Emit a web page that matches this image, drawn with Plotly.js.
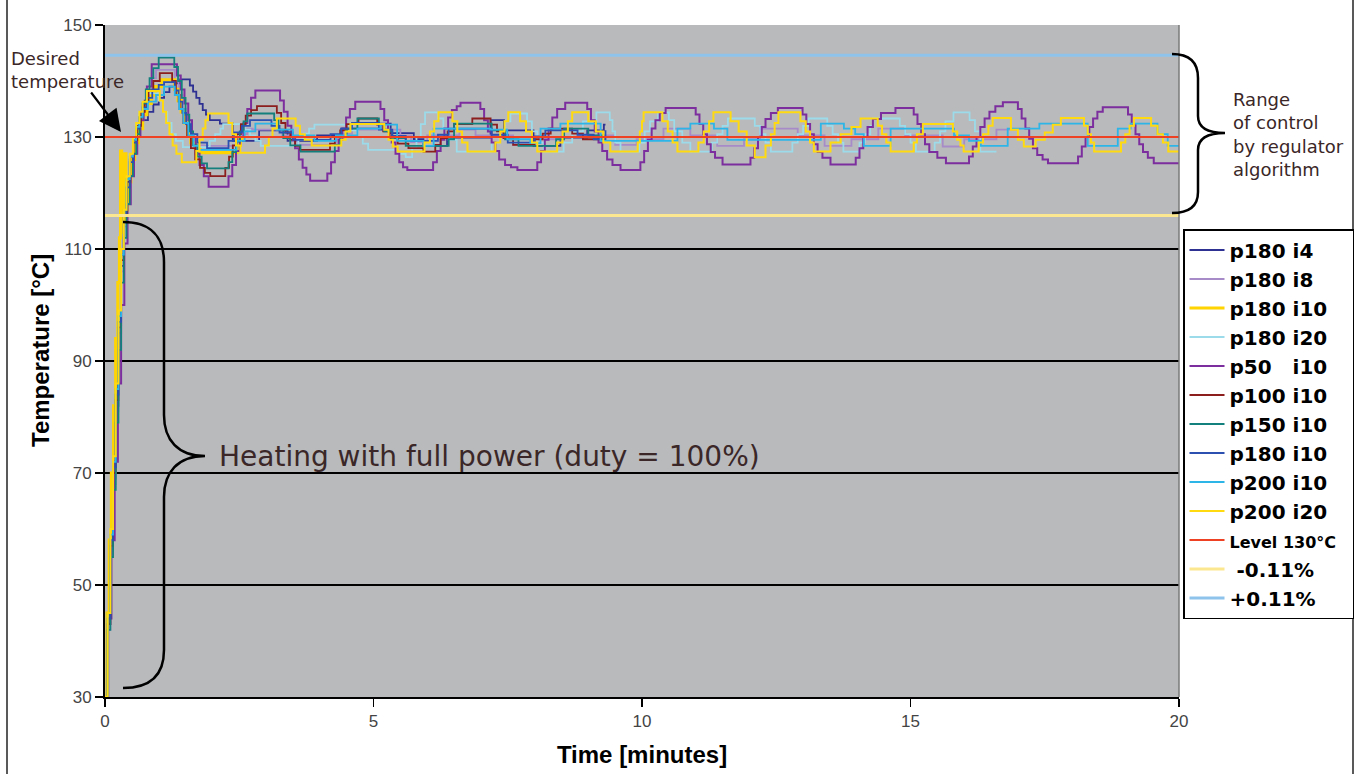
<!DOCTYPE html>
<html><head><meta charset="utf-8">
<script src="https://cdn.plot.ly/plotly-3.0.1.min.js"></script>
<style>html,body{margin:0;padding:0;background:#fff}#chart{width:1357px;height:774px}</style>
</head><body><div id="chart"></div>
<script>
// ---- data: [time (min), temperature (°C)] step points ----
const p180_i4 = [[0,30],[0.05,43],[0.1,56],[0.15,69],[0.2,82],[0.25,95],[0.3,107],[0.35,115],[0.4,121],[0.46,126],[0.52,129.5],[0.6,131.5],[0.7,133],[0.8,134.5],[0.9,135.8],[1.0,137],[1.1,138],[1.2,139],[1.3,139.6],[1.4,140.3],[1.58,139.2],[1.64,138.1],[1.7,137],[1.76,135.9],[1.82,134.8],[1.88,134],[1.95,133],[2.14,132.4],[2.38,129.3],[2.87,131.2],[3.4,129.3],[3.95,130.3],[4.4,131.5],[5.13,132.4],[5.32,130.7],[5.75,129.6],[5.93,128.4],[6.37,129.9],[7.18,133],[7.43,131.2],[7.98,128.4],[8.48,129.9],[8.98,131.2],[9.29,132.2],[9.32,132.2]];

const p180_i8 = [[0,30],[0.05,42],[0.1,55],[0.15,68],[0.2,81],[0.25,94],[0.3,106],[0.35,114],[0.41,120],[0.47,125],[0.53,128.5],[0.6,131.5],[0.67,134],[0.74,136.5],[0.81,138.5],[0.88,140.5],[0.95,142],[1.3,140],[1.37,137.5],[1.44,135],[1.51,132.5],[1.58,130.5],[1.66,129],[1.75,128.5],[1.85,128.4],[2.45,129.5],[2.55,130.5],[2.65,131.5],[2.75,131.3],[3.3,130.3],[3.45,129.3],[3.6,128.6],[4.3,129.6],[4.45,130.6],[4.6,131.3],[5.5,130.3],[5.7,129.1],[6.0,130.3],[6.6,131.3],[6.9,130.3],[7.6,128.6],[8.0,129.6],[8.5,131.3],[8.8,130.3],[9.5,128.6],[9.9,129.6],[10.4,131.5],[10.9,130.3],[11.4,128.4],[11.9,129.6],[12.2,131.5],[12.9,130.3],[13.4,128.4],[13.9,129.6],[14.4,131.5],[14.9,130.3],[15.6,128.3],[16.0,129.6],[16.6,131.3],[17.0,131.3]];

const p180_i10_gold = [[0,30],[0.04,45],[0.08,58],[0.12,70],[0.16,82],[0.2,94],[0.24,104],[0.27,112],[0.29,127.5],[0.31,113],[0.33,126.5],[0.35,115],[0.37,127],[0.39,117],[0.42,122],[0.48,126],[0.55,129],[0.62,131.5],[0.7,134],[0.78,136],[0.86,137.5],[0.94,139],[1.05,140.2],[1.3,138.5],[1.36,136.5],[1.42,134.5],[1.48,132.5],[1.54,130.5],[1.6,129],[1.68,128],[1.77,127.2],[2.46,128.5],[2.52,129.8],[2.6,129.8]];

const p180_i20 = [[0,30],[0.05,44],[0.1,57],[0.15,70],[0.2,83],[0.25,96],[0.3,108],[0.35,116],[0.4,122],[0.46,127],[0.52,130],[0.58,132.5],[0.64,134.5],[0.7,136.3],[0.78,137.8],[1.0,136.5],[1.08,134.5],[1.16,132.5],[1.24,130.5],[1.32,129.3],[1.45,128.2],[1.95,129.3],[2.05,130.5],[2.15,131.5],[2.2,132.3],[2.6,131.3],[2.7,130.3],[2.8,129.3],[2.9,128.4],[3.6,129.5],[3.7,130.6],[3.8,131.5],[3.9,132.2],[4.6,131.2],[4.7,130],[4.8,128.8],[4.9,127.7],[5.45,127],[5.6,126.4],[5.72,128],[5.8,130],[5.88,132.3],[5.96,134.4],[6.2,133.3],[6.3,131.5],[6.4,129.5],[6.55,127.4],[7.2,129],[7.35,131],[7.45,132.8],[7.55,134.2],[7.86,132.8],[7.95,131],[8.05,129],[8.17,127.4],[8.54,129],[8.7,131],[8.9,132.8],[9.15,134.4],[9.4,133],[9.45,131],[9.5,129],[9.6,127.4],[9.95,129],[10.05,131],[10.15,132.8],[10.3,134.4],[10.5,133],[10.6,131],[10.75,129],[10.9,127.4],[11.3,129],[11.4,130.5],[11.5,132],[11.6,133.3],[12.1,132],[12.2,130.5],[12.3,129],[12.4,127.4],[12.8,129],[12.9,130.5],[13.0,132],[13.1,133.3],[13.45,132],[13.55,130.5],[13.65,129],[13.75,127.4],[14.05,129],[14.15,130.5],[14.25,132],[14.3,133.3],[14.8,132],[14.9,130.5],[15.0,129],[15.1,127.4],[15.45,129],[15.55,131],[15.65,132.8],[15.8,134.4],[16.1,133],[16.2,131],[16.3,127.4],[16.6,127.4]];

const p50_i10 = [[0,30],[0.06,44],[0.12,58],[0.18,72],[0.24,86],[0.3,100],[0.36,111],[0.42,118],[0.48,123],[0.54,127],[0.6,130],[0.66,133],[0.72,136],[0.78,139],[0.87,143],[1.34,141],[1.41,138.5],[1.48,136],[1.55,133],[1.62,130],[1.69,127],[1.76,125],[1.84,123],[1.93,121.1],[2.30,123],[2.37,125],[2.44,127.5],[2.51,130],[2.58,132.5],[2.65,135],[2.72,137],[2.80,138.3],[3.26,136.5],[3.33,134.5],[3.40,132],[3.47,130],[3.54,128],[3.61,126],[3.68,124.5],[3.75,123.3],[3.82,122.2],[4.14,123.5],[4.21,125.5],[4.28,127.5],[4.35,129.5],[4.42,131.5],[4.49,133.5],[4.56,135],[4.66,136.3],[5.13,135],[5.2,133],[5.27,131],[5.34,129],[5.41,127],[5.48,125.5],[5.55,124.6],[5.63,124.1],[6.11,125.5],[6.18,127.5],[6.25,129.5],[6.32,131.5],[6.39,133.5],[6.46,134.8],[6.55,135.5],[6.62,136.1],[6.99,135],[7.06,133],[7.13,131],[7.2,129],[7.27,127.5],[7.34,126],[7.45,125],[7.56,124.6],[7.68,124.1],[8.05,125.5],[8.12,127.5],[8.19,129.5],[8.26,131.5],[8.33,133.5],[8.42,135],[8.57,136.1],[8.98,135],[9.05,133],[9.12,131],[9.19,129],[9.26,127.5],[9.35,126],[9.45,125],[9.6,124.1],[9.97,125.5],[10.04,127.5],[10.11,129.5],[10.18,131.5],[10.25,133],[10.33,134.3],[10.44,135.2],[11.0,134],[11.07,132.3],[11.14,130.5],[11.21,128.7],[11.28,127.3],[11.36,126.3],[11.5,125.1],[12.02,126.3],[12.09,128],[12.16,130],[12.23,131.8],[12.3,133.2],[12.4,134.3],[12.53,135.2],[12.99,134],[13.06,132.3],[13.13,130.5],[13.2,128.7],[13.27,127.3],[13.36,126.3],[13.51,125.1],[13.98,126.3],[14.05,128],[14.12,130],[14.2,131.8],[14.3,133.2],[14.45,134.3],[14.72,135.2],[15.06,134],[15.13,132.3],[15.2,130.5],[15.27,128.7],[15.35,127.3],[15.5,126.3],[15.66,125.3],[16.09,126.5],[16.16,128.3],[16.23,130],[16.3,131.8],[16.38,133.3],[16.47,134.5],[16.58,135.5],[16.72,136.2],[17.0,135],[17.07,133.3],[17.14,131.5],[17.21,129.7],[17.28,128],[17.36,126.8],[17.46,126],[17.56,125.3],[18.12,126.5],[18.19,128.3],[18.26,130],[18.33,131.8],[18.40,133.3],[18.48,134.5],[18.58,135.3],[19.05,134],[19.12,132.3],[19.19,130.5],[19.26,128.7],[19.33,127.3],[19.42,126.3],[19.53,125.3],[20.0,125.3]];

const p100_i10 = [[0,30],[0.05,43],[0.1,57],[0.15,70],[0.2,83],[0.25,96],[0.3,108],[0.35,116],[0.41,122],[0.47,126.5],[0.53,129.5],[0.6,132],[0.67,134.5],[0.74,136.5],[0.81,138.3],[0.9,140],[1.02,141.4],[1.25,140],[1.32,137.5],[1.39,135],[1.46,132.5],[1.53,130],[1.6,128],[1.68,126],[1.77,124.5],[1.86,123.6],[1.96,123],[2.24,124.5],[2.31,126.5],[2.38,128.5],[2.45,130.5],[2.53,132.3],[2.62,133.8],[2.72,134.8],[2.83,135.5],[3.2,134.3],[3.28,132.5],[3.36,130.8],[3.45,129.5],[3.54,128.4],[3.63,127.7],[4.19,128.8],[4.28,130],[4.38,131.2],[4.5,132.3],[4.72,133.3],[5.07,132.2],[5.18,131],[5.3,129.8],[5.45,128.8],[5.65,128],[5.93,127.4],[6.15,128.6],[6.25,129.8],[6.38,131],[6.5,132.3],[6.84,133.3],[7.18,132.2],[7.3,131],[7.42,129.8],[7.6,128.6],[8.0,129.6],[8.15,130.6],[8.3,131.5],[8.7,130.6],[8.9,129.6],[9.3,129.6]];

const p150_i10 = [[0,30],[0.05,42],[0.1,55],[0.15,67],[0.2,79],[0.25,92],[0.3,104],[0.35,112],[0.4,118],[0.46,123],[0.52,127],[0.58,130.5],[0.64,133.5],[0.7,136],[0.76,138.5],[0.83,140.5],[0.9,142.3],[1.0,144.2],[1.29,142.5],[1.36,140],[1.43,137],[1.5,134],[1.57,131],[1.64,128.5],[1.72,126.5],[1.8,125.3],[1.9,124.4],[2.3,125.5],[2.37,127.3],[2.44,129.2],[2.51,131],[2.58,132.8],[2.65,134.2],[3.15,133],[3.23,131.3],[3.32,129.8],[3.45,128.5],[3.64,127.4],[4.28,128.6],[4.38,130],[4.5,131.5],[4.7,133.3],[5.1,132.3],[5.2,131],[5.35,129.8],[5.6,128.4],[6.4,129.6],[6.5,132.4],[7.2,131.2],[7.45,129.6],[7.7,128.4],[8.4,129.6],[8.55,131.5],[9.0,130.3],[9.3,130.3]];

const p180_i10_blue = [[0,30],[0.05,44],[0.1,58],[0.15,71],[0.2,84],[0.25,97],[0.3,109],[0.35,116],[0.4,121],[0.46,125.5],[0.52,129],[0.58,131.5],[0.64,133.5],[0.7,135.3],[0.78,137],[0.88,138.5],[1.0,139.3],[1.1,139.8],[1.3,138.3],[1.37,136.3],[1.44,134.3],[1.51,132.3],[1.6,130.5],[1.72,129],[1.9,128],[2.3,129.3],[2.4,130.8],[2.55,132],[2.7,133],[3.1,132],[3.25,130.8],[3.5,129.5],[4.2,130.5],[4.4,131.5],[4.6,132.5],[5.1,131.3],[5.35,130.2],[5.6,129.3],[6.2,130.4],[6.4,131.5],[7.2,130.4],[7.5,129],[8.0,130.1],[8.2,131.2],[8.8,130.4],[9.1,129.6],[9.32,131.2]];

const p200_i10 = [[0,30],[0.05,45],[0.1,59],[0.15,72],[0.2,85],[0.25,98],[0.3,109],[0.35,117],[0.4,122.5],[0.46,126.5],[0.52,129.5],[0.58,131.8],[0.64,133.6],[0.7,135],[0.8,136.3],[0.95,137.5],[1.1,139],[1.3,137.5],[1.38,135],[1.46,132.5],[1.55,130.3],[1.65,128.4],[1.75,127.7],[2.45,129.3],[2.6,131],[2.8,132.4],[3.2,131.3],[3.5,130.3],[3.9,129.3],[4.3,130.3],[4.7,131.5],[5.13,132.2],[5.44,129.3],[5.93,128.4],[6.12,131.5],[7.18,131.3],[7.49,129.6],[7.92,128.9],[8.11,131.5],[8.48,132.4],[9.23,129.3],[10.66,131.5],[10.9,132.4],[11.34,131.5],[11.59,129.5],[13.33,132.4],[13.76,131.5],[13.97,130.5],[14.13,128.4],[14.63,131.5],[15.81,130.3],[16.09,129.3],[16.31,128.4],[16.81,131.5],[17.4,132.4],[18.3,128.4],[18.86,131.5],[19.1,132.4],[19.6,130.5],[19.79,128.4],[20,128.4]];

const p200_i20 = [[0,30],[0.05,45],[0.1,60],[0.15,73],[0.2,86],[0.25,99],[0.3,110],[0.35,117],[0.4,123],[0.46,127],[0.52,130],[0.58,132.5],[0.64,134.5],[0.7,136.3],[0.78,138.2],[1.02,136.5],[1.08,134.5],[1.14,132.5],[1.2,130.5],[1.26,128.5],[1.33,127],[1.43,125.5],[1.70,127.5],[1.76,129.5],[1.82,131.5],[1.87,133],[1.92,134.2],[2.3,132.5],[2.37,130.5],[2.44,128.5],[2.52,127.2],[2.98,128.5],[3.05,130],[3.12,131.5],[3.2,133.3],[3.55,132],[3.63,130.5],[3.72,129.5],[3.85,128.5],[4.4,129.5],[4.48,131],[4.57,132.3],[5.2,131.3],[5.28,129.5],[5.36,128.3],[5.45,127.4],[5.95,129],[6.05,131],[6.13,132.8],[6.21,134.4],[6.47,132.8],[6.56,131],[6.65,129],[6.75,127.4],[7.27,129],[7.36,131],[7.44,132.8],[7.51,134.4],[7.73,132.8],[7.84,131],[7.95,129],[8.05,127.4],[8.42,129],[8.52,131],[8.62,132.8],[8.7,134.4],[9.0,132.8],[9.14,131],[9.28,129],[9.41,127.4],[9.92,129],[9.96,131],[10.0,132.8],[10.03,134.4],[10.38,132.8],[10.48,131],[10.57,129],[10.66,127.4],[11.05,129],[11.15,131],[11.25,132.8],[11.33,134.4],[11.65,132.8],[11.8,131],[11.95,128.5],[12.1,126.4],[12.3,128.5],[12.4,130.5],[12.47,132.5],[12.54,134.4],[12.95,132.8],[13.05,131],[13.13,129],[13.2,127.4],[13.51,129],[13.7,130.5],[13.9,131.8],[14.07,133.3],[14.39,132],[14.47,130.5],[14.55,129],[14.63,127.4],[15.06,129],[15.12,130.5],[15.23,132.3],[15.79,131],[15.87,129.5],[15.93,128.5],[15.99,127.4],[16.27,129],[16.35,130.5],[16.45,132],[16.53,133.4],[16.87,131.3],[17.0,129.5],[17.11,128.3],[17.33,129.5],[17.5,130.8],[17.65,132.2],[17.8,133.4],[18.23,132],[18.3,130.5],[18.36,129],[18.42,127.4],[18.92,129],[19.0,130.5],[19.08,132],[19.16,133.4],[19.48,132],[19.6,130.5],[19.7,129],[19.8,127.4],[20,127.4]];

const timeSpan = [0, 20];
const level130 = [130, 130];
const minus011 = [116.0, 116.0];
const plus011 = [144.6, 144.6];

const seriesNames = ['p180 i4','p180 i8','p180 i10','p180 i20','p50\u00a0\u00a0\u00a0i10','p100 i10','p150 i10','p180 i10','p200 i10','p200 i20'];
const seriesData = [p180_i4, p180_i8, p180_i10_gold, p180_i20, p50_i10, p100_i10, p150_i10, p180_i10_blue, p200_i10, p200_i20];
const bandNames = ['<span style="font-size:16px">Level 130°C\u00a0\u00a0</span>', '\u00a0-0.11%', '+0.11%'];
const xTicks = [0, 5, 10, 15, 20];
const yTicks = [30, 50, 70, 90, 110, 130, 150];

// ---- styles ----
const seriesColors = ['#2E3192','#A78BC8','#FFD400','#9CDBE9','#7C2E9E','#8C1E1E','#14807D','#2B50B0','#2DB5E8','#FFDA10'];
const seriesWidths = [1.8,1.8,3.2,1.8,2,1.8,1.8,1.8,1.8,2];
const bandColors = ['#EE4124','#FBE78F','#8EC4EB'];
const bandWidths = [2,3,3];

const traces = seriesData.map((d, i) => ({
  type:'scatter', mode:'lines', line:{shape:'hv', color:seriesColors[i], width:seriesWidths[i]},
  x: d.map(p => p[0]), y: d.map(p => p[1]), name: seriesNames[i], hoverinfo:'skip'
}));
[level130, minus011, plus011].forEach((v, i) => traces.push({
  type:'scatter', mode:'lines', x: timeSpan, y: v, name: bandNames[i],
  line:{color:bandColors[i], width:bandWidths[i]}, hoverinfo:'skip'
}));

// pixel -> paper helpers for annotations / decorations
const PL=105, PR=1179, PT=25, PB=697;
const fx = x => (x-PL)/(PR-PL);
const fy = y => (PB-y)/(PB-PT);
const P = (x,y) => fx(x).toFixed(5)+','+fy(y).toFixed(5);

const leftBrace = 'M'+P(123,222)+' C'+P(152,222)+' '+P(164,238)+' '+P(164,262)+' L'+P(164,415)+
  ' C'+P(164,440)+' '+P(178,456)+' '+P(205,456)+' C'+P(178,456)+' '+P(164,472)+' '+P(164,497)+
  ' L'+P(164,650)+' C'+P(164,674)+' '+P(152,688)+' '+P(123,688);
const rightBrace = 'M'+P(1172,54)+' C'+P(1190,54)+' '+P(1198,62)+' '+P(1198,78)+' L'+P(1198,116)+
  ' C'+P(1198,128)+' '+P(1208,133)+' '+P(1225,133)+' C'+P(1208,133)+' '+P(1198,138)+' '+P(1198,150)+
  ' L'+P(1198,192)+' C'+P(1198,206)+' '+P(1190,213)+' '+P(1172,213);

const annColor = '#3B2727';
const titleFont = {family:'Liberation Sans, Arial', size:24, color:'#000', weight:'bold'};
const layout = {
  width:1357, height:774,
  margin:{l:PL, r:1357-PR, t:PT, b:774-PB, autoexpand:false},
  paper_bgcolor:'#ffffff', plot_bgcolor:'#B8BABC',
  showlegend:true,
  legend:{x:fx(1183), y:fy(229), xanchor:'left', yanchor:'top', bgcolor:'#ffffff',
    bordercolor:'#000', borderwidth:1.5, tracegroupgap:0, itemwidth:35,
    font:{family:'DejaVu Sans', size:20, color:'#000', weight:'bold'}},
  xaxis:{range:[0,20], tickvals:xTicks, showgrid:false, zeroline:false, showline:true,
    linecolor:'#000', linewidth:2, ticks:'outside', ticklen:8, tickwidth:1.5, tickcolor:'#000',
    tickfont:{family:'Liberation Sans, Arial', size:17, color:'#444'},
    title:{text:'Time [minutes]', standoff:16, font:titleFont}},
  yaxis:{range:[30,150], tickvals:yTicks, showgrid:true, gridcolor:'#000', gridwidth:1.3, zeroline:false, showline:true,
    linecolor:'#000', linewidth:2, ticks:'outside', ticklen:8, tickwidth:1.5, tickcolor:'#000',
    tickfont:{family:'Liberation Sans, Arial', size:17, color:'#444'}},
  shapes:[
    {type:'line', xref:'paper', yref:'paper', x0:1, x1:1, y0:0, y1:1, line:{color:'#7a7a7a', width:1.5}},
    {type:'path', xref:'paper', yref:'paper', path:leftBrace, line:{color:'#000', width:2.5}},
    {type:'path', xref:'paper', yref:'paper', path:rightBrace, line:{color:'#000', width:2.5}},
    {type:'line', xref:'paper', yref:'paper', x0:fx(7), x1:fx(7), y0:fy(0), y1:fy(774), line:{color:'#222', width:1.5}},
    {type:'line', xref:'paper', yref:'paper', x0:fx(1353), x1:fx(1353), y0:fy(0), y1:fy(774), line:{color:'#222', width:1.5}}
  ],
  annotations:[
    {xref:'paper', yref:'paper', x:fx(40), y:fy(351), textangle:-90, showarrow:false,
     xanchor:'center', yanchor:'middle', text:'Temperature [°C]', font:titleFont},
    {xref:'paper', yref:'paper', x:fx(9), y:fy(70), xanchor:'left', yanchor:'middle', align:'left', showarrow:false,
     text:'Desired<br>temperature', font:{family:'DejaVu Sans', size:18, color:annColor}},
    {xref:'paper', yref:'paper', x:fx(121), y:fy(132), ax:-31, ay:-41, text:'', showarrow:true,
     arrowhead:2, arrowsize:2, arrowwidth:2.2, arrowcolor:'#000'},
    {xref:'paper', yref:'paper', x:fx(1231), y:fy(134), xanchor:'left', yanchor:'middle', align:'left', showarrow:false,
     text:'Range<br>of control<br>by regulator<br>algorithm', font:{family:'DejaVu Sans', size:18, color:annColor}},
    {xref:'paper', yref:'paper', x:fx(217), y:fy(456), xanchor:'left', yanchor:'middle', showarrow:false,
     text:'Heating with full power (duty = 100%)', font:{family:'DejaVu Sans', size:28, color:annColor}}
  ]
};

Plotly.newPlot('chart', traces, layout, {staticPlot:true, displayModeBar:false});
</script>
</body></html>
